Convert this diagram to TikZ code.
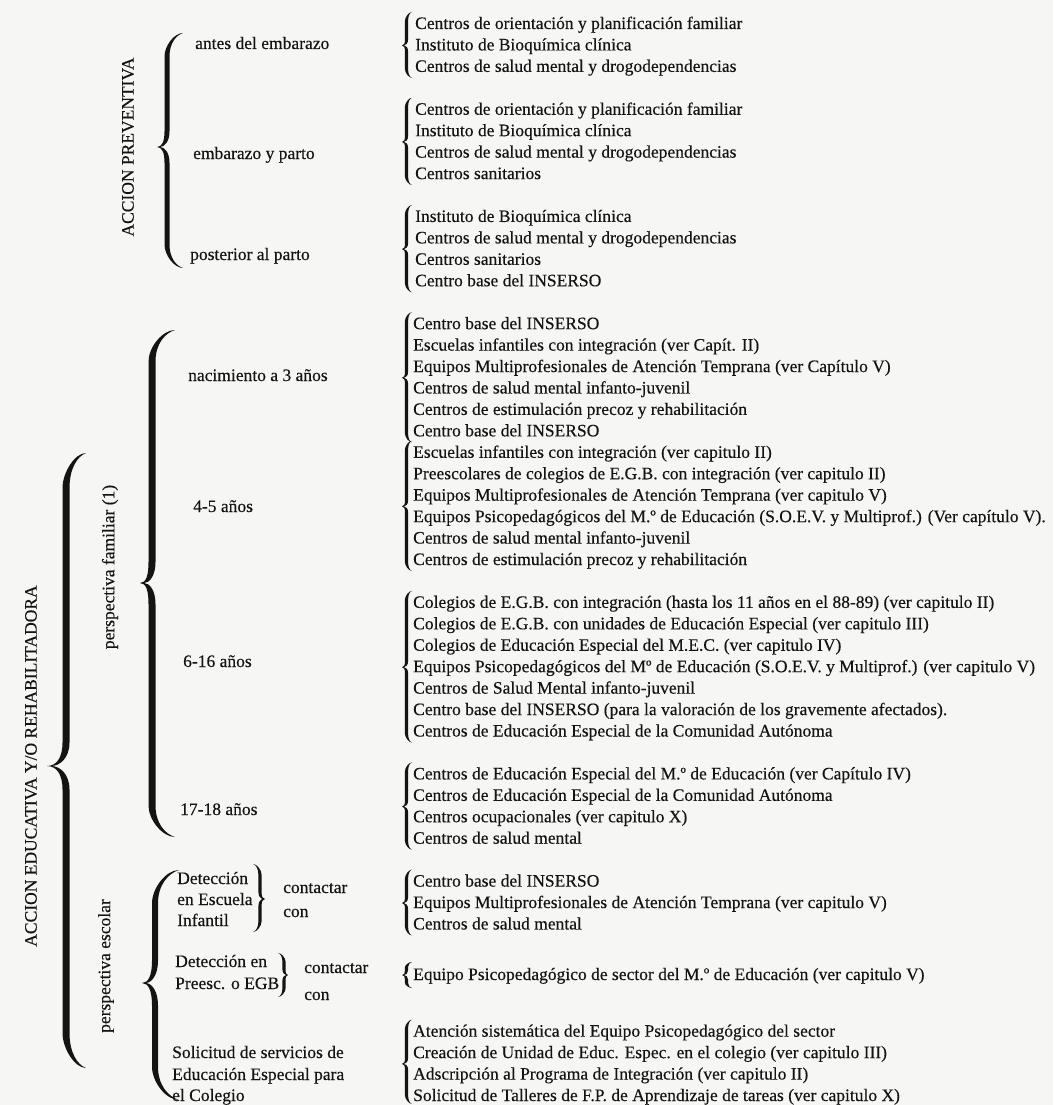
\documentclass[tikz,border=0pt]{standalone}
\usepackage{fontspec}
\setmainfont{Liberation Serif}
\newfontfamily\lblfont{Liberation Serif}[FakeBold=0.35]
\definecolor{ink}{HTML}{141414}
\definecolor{paper}{HTML}{F6F6F4}
% brace: #1 tip x, #2 arm offset, #3 end offset, #4 top y, #5 tip y, #6 bottom y, #7 thickness
\newcommand{\Brc}[7]{%
  \pgfmathsetmacro\BrX{#1}%
  \pgfmathsetmacro\BrA{#1+#2}%
  \pgfmathsetmacro\BrE{#1+#3}%
  \pgfmathsetmacro\BrT{#4}%
  \pgfmathsetmacro\BrM{#5}%
  \pgfmathsetmacro\BrB{#6}%
  \pgfmathsetmacro\BrRe{min(0.9*abs(#3),0.4*(\BrM-\BrT))}%
  \pgfmathsetmacro\BrRf{min(0.9*abs(#3),0.4*(\BrB-\BrM))}%
  \pgfmathsetmacro\BrRm{min(0.6*abs(#3),0.35*(\BrM-\BrT))}%
  \pgfmathsetmacro\BrRn{min(0.6*abs(#3),0.35*(\BrB-\BrM))}%
  \pgfmathsetmacro\BrH{#7/2*sign(#2)}%
  \pgfmathsetmacro\BrO{\BrA-\BrH}%
  \pgfmathsetmacro\BrI{\BrA+\BrH}%
  \pgfmathsetmacro\BrC{\BrA+0.45*(\BrE-\BrA)}%
  \pgfmathsetmacro\BrD{\BrA+0.55*(\BrE-\BrA)}%
  \pgfmathsetmacro\BrQ{(\BrX+\BrA)/2}%
  \pgfmathsetmacro\BrTT{\BrX+1.2*\BrH}%
  \pgfmathsetmacro\BrQQ{\BrQ+\BrH}%
  \fill[ink] (\BrE,\BrT)
    .. controls (\BrC,\BrT) and (\BrO,{\BrT+0.55*\BrRe}) .. (\BrO,{\BrT+\BrRe})
    -- (\BrO,{\BrM-\BrRm})
    .. controls (\BrO,{\BrM-0.35*\BrRm}) and (\BrQ,\BrM) .. (\BrX,\BrM)
    .. controls (\BrQ,\BrM) and (\BrO,{\BrM+0.35*\BrRn}) .. (\BrO,{\BrM+\BrRn})
    -- (\BrO,{\BrB-\BrRf})
    .. controls (\BrO,{\BrB-0.55*\BrRf}) and (\BrC,\BrB) .. (\BrE,\BrB)
    .. controls (\BrD,{\BrB-0.1*\BrRf}) and (\BrI,{\BrB-0.45*\BrRf}) .. (\BrI,{\BrB-\BrRf})
    -- (\BrI,{\BrM+\BrRn})
    .. controls (\BrI,{\BrM+0.35*\BrRn}) and (\BrQQ,\BrM) .. (\BrTT,\BrM)
    .. controls (\BrQQ,\BrM) and (\BrI,{\BrM-0.35*\BrRm}) .. (\BrI,{\BrM-\BrRm})
    -- (\BrI,{\BrT+\BrRe})
    .. controls (\BrI,{\BrT+0.45*\BrRe}) and (\BrD,{\BrT+0.1*\BrRe}) .. (\BrE,\BrT)
    -- cycle;
}
% list line: #1 name, #2 x, #3 line index, #4 text
\newcommand{\Ln}[4]{\node[txt] (#1) at (#2,{29+21.44*#3}) {#4};}
% list brace for lines #1..#2
\newcommand{\LBr}[2]{%
  \pgfmathsetmacro\LbT{24+21.44*#1-12}%
  \pgfmathsetmacro\LbM{24+21.44*(#1+#2)/2}%
  \pgfmathsetmacro\LbB{min(1104,24+21.44*#2+11)}%
  \Brc{402}{4.5}{10}{\LbT}{\LbM}{\LbB}{3.2}}
\begin{document}
\begin{tikzpicture}[x=1pt,y=-1pt,
  txt/.style={anchor=base west, inner sep=0pt, text=ink, font=\lblfont\fontsize{17.5}{21.5}\selectfont},
  vtxt/.style={rotate=90, anchor=center, inner sep=0pt, text=ink, font=\lblfont\fontsize{17.5}{21.5}\selectfont}]
\fill[paper] (0,0) rectangle (1053,1105);
\useasboundingbox (0,0) rectangle (1053,1105);

% ---------- ACCION PREVENTIVA ----------
\node[vtxt] (prev) at (128,147) {ACCION PREVENTIVA};
\Brc{157}{10}{26}{33}{147}{268}{5}
\node[txt] (antes) at (195,49) {antes del embarazo};
\node[txt] (emb) at (193,159) {embarazo y parto};
\node[txt] (post) at (190,260) {posterior al parto};

\LBr{0}{2}
\Ln{a1}{415}{0}{Centros de orientación y planificación familiar}
\Ln{a2}{415}{1}{Instituto de Bioquímica clínica}
\Ln{a3}{415}{2}{Centros de salud mental y drogodependencias}

\LBr{4}{7}
\Ln{b1}{415}{4}{Centros de orientación y planificación familiar}
\Ln{b2}{415}{5}{Instituto de Bioquímica clínica}
\Ln{b3}{415}{6}{Centros de salud mental y drogodependencias}
\Ln{b4}{415}{7}{Centros sanitarios}

\LBr{9}{12}
\Ln{c1}{415}{9}{Instituto de Bioquímica clínica}
\Ln{c2}{415}{10}{Centros de salud mental y drogodependencias}
\Ln{c3}{415}{11}{Centros sanitarios}
\Ln{c4}{415}{12}{Centro base del INSERSO}

% ---------- ACCION EDUCATIVA ----------
\node[vtxt] (edu) at (31,766) {ACCION EDUCATIVA Y/O REHABILITADORA};
\Brc{47}{19}{39}{453}{766}{1068}{7}

\node[vtxt] (pfam) at (110,567) {perspectiva familiar (1)};
\Brc{140}{12}{35}{330}{583}{837}{7}

\node[vtxt] (pesc) at (106,966) {perspectiva escolar};
\Brc{142}{13}{37}{870}{983}{1100}{6}

\node[txt] (nac) at (188,381) {nacimiento a 3 años};
\node[txt] (c45) at (193,512) {4-5 años};
\node[txt] (c616) at (183,667) {6-16 años};
\node[txt] (c1718) at (180,815) {17-18 años};

\LBr{14}{19}
\Ln{d1}{413}{14}{Centro base del INSERSO}
\Ln{d2}{413}{15}{Escuelas infantiles con integración (ver Capít. II)}
\Ln{d3}{413}{16}{Equipos Multiprofesionales de Atención Temprana (ver Capítulo V)}
\Ln{d4}{413}{17}{Centros de salud mental infanto-juvenil}
\Ln{d5}{413}{18}{Centros de estimulación precoz y rehabilitación}
\Ln{d6}{413}{19}{Centro base del INSERSO}

\LBr{20}{25}
\Ln{e1}{413}{20}{Escuelas infantiles con integración (ver capitulo II)}
\Ln{e2}{413}{21}{Preescolares de colegios de E.G.B. con integración (ver capitulo II)}
\Ln{e3}{413}{22}{Equipos Multiprofesionales de Atención Temprana (ver capitulo V)}
\Ln{e4}{413}{23}{Equipos Psicopedagógicos del M.º de Educación (S.O.E.V. y Multiprof.) (Ver capítulo V).}
\Ln{e5}{413}{24}{Centros de salud mental infanto-juvenil}
\Ln{e6}{413}{25}{Centros de estimulación precoz y rehabilitación}

\LBr{27}{33}
\Ln{f1}{413}{27}{Colegios de E.G.B. con integración (hasta los 11 años en el 88-89) (ver capitulo II)}
\Ln{f2}{413}{28}{Colegios de E.G.B. con unidades de Educación Especial (ver capitulo III)}
\Ln{f3}{413}{29}{Colegios de Educación Especial del M.E.C. (ver capitulo IV)}
\Ln{f4}{413}{30}{Equipos Psicopedagógicos del Mº de Educación (S.O.E.V. y Multiprof.) (ver capitulo V)}
\Ln{f5}{413}{31}{Centros de Salud Mental infanto-juvenil}
\Ln{f6}{413}{32}{Centro base del INSERSO (para la valoración de los gravemente afectados).}
\Ln{f7}{413}{33}{Centros de Educación Especial de la Comunidad Autónoma}

\LBr{35}{38}
\Ln{g1}{413}{35}{Centros de Educación Especial del M.º de Educación (ver Capítulo IV)}
\Ln{g2}{413}{36}{Centros de Educación Especial de la Comunidad Autónoma}
\Ln{g3}{413}{37}{Centros ocupacionales (ver capitulo X)}
\Ln{g4}{413}{38}{Centros de salud mental}

% Deteccion en Escuela Infantil
\node[txt] (dei1) at (177,884) {Detección};
\node[txt] (dei2) at (177,905) {en Escuela};
\node[txt] (dei3) at (177,926) {Infantil};
\Brc{265}{-5}{-12}{864}{899}{932}{3.2}
\node[txt] (cont1) at (283,893) {contactar};
\node[txt] (con1) at (283,917) {con};
\LBr{40}{42}
\Ln{h1}{413}{40}{Centro base del INSERSO}
\Ln{h2}{413}{41}{Equipos Multiprofesionales de Atención Temprana (ver capitulo V)}
\Ln{h3}{413}{42}{Centros de salud mental}

% Deteccion en Preesc. o EGB
\node[txt] (degb1) at (175,967) {Detección en};
\node[txt] (degb2) at (175,989) {Preesc. o EGB};
\Brc{288}{-4}{-10}{953}{975}{997}{3.2}
\node[txt] (cont2) at (304,973) {contactar};
\node[txt] (con2) at (304,1000) {con};
\Brc{402}{4.5}{10}{962}{975}{988}{3.2}
\node[txt] (i1) at (413,980) {Equipo Psicopedagógico de sector del M.º de Educación (ver capitulo V)};

% Solicitud
\node[txt] (sol1) at (172,1058) {Solicitud de servicios de};
\node[txt] (sol2) at (172,1080) {Educación Especial para};
\node[txt] (sol3) at (172,1101) {el Colegio};
\LBr{47}{50}
\Ln{j1}{413}{47}{Atención sistemática del Equipo Psicopedagógico del sector}
\Ln{j2}{413}{48}{Creación de Unidad de Educ. Espec. en el colegio (ver capitulo III)}
\Ln{j3}{413}{49}{Adscripción al Programa de Integración (ver capitulo II)}
\Ln{j4}{413}{50}{Solicitud de Talleres de F.P. de Aprendizaje de tareas (ver capitulo X)}
\end{tikzpicture}
\end{document}
